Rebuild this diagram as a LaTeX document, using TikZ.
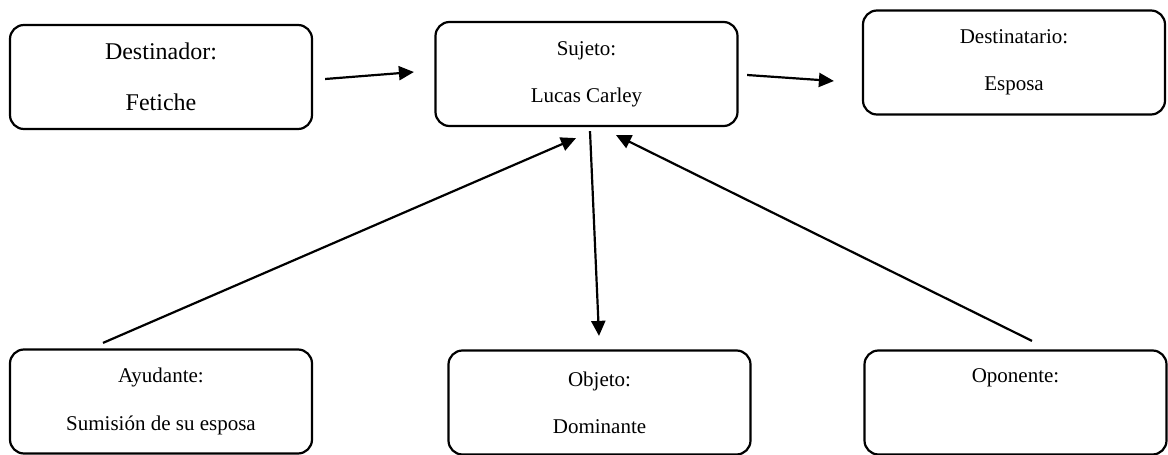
\documentclass[tikz,border=0pt]{standalone}
\usepackage{fontspec}
\setmainfont{Liberation Serif}
\usetikzlibrary{arrows.meta, calc}
\tikzset{
x=0.5pt, y=-0.5pt, % one unit is one pixel of the layout, y grows downwards
>={Triangle[length=7.5pt,width=7pt]}, % filled arrow heads
actor/.style={draw, line width=1.1pt, rounded corners=7pt, minimum width=151pt, minimum height=52pt, align=center, font=\fontsize{10.5}{12.6}\selectfont, execute at begin node=\rule{0pt}{11.5pt}}, % the boxes of the model
link/.style={->, line width=1.1pt}, % the arrows between boxes
}

\begin{document}
\begin{tikzpicture}
        \useasboundingbox (0,0) rectangle (1168,455);

        \node[actor, font=\fontsize{12}{14.4}\selectfont] (dest) at (161,77) {Destinador:\\[11pt]Fetiche};
        \node[actor] (suj) at (586.5,74) {Sujeto:\\[11pt]Lucas Carley};
        \node[actor] (dstr) at (1014,62.5) {Destinatario:\\[11pt]Esposa};
        \node[actor] (ayud) at (161,401.5) {Ayudante:\\[11pt]Sumisión de su esposa};
        \node[actor] (obj) at (599.5,402.5) {Objeto:\\[11pt]Dominante};
        \node[actor] (opon) at (1015.5,402.5) {Oponente:\\[11pt]\strut};

        \draw[link] ($(dest.east)+(12,2)$) -- ($(suj.west)+(-20.5,-2)$);
        \draw[link] ($(suj.east)+(8.5,1)$) -- ($(dstr.west)+(-28,18.5)$);
        \draw[link] ($(suj.south)+(3.5,4)$) -- ($(obj.north)+(-0.5,-13.5)$);
        \draw[link] ($(ayud.north)+(-58,-5.5)$) -- ($(suj.south)+(-10.5,11)$);
        \draw[link] ($(opon.north)+(16.5,-8.5)$) -- ($(suj.south)+(29.5,8)$);
    \end{tikzpicture}
\end{document}
